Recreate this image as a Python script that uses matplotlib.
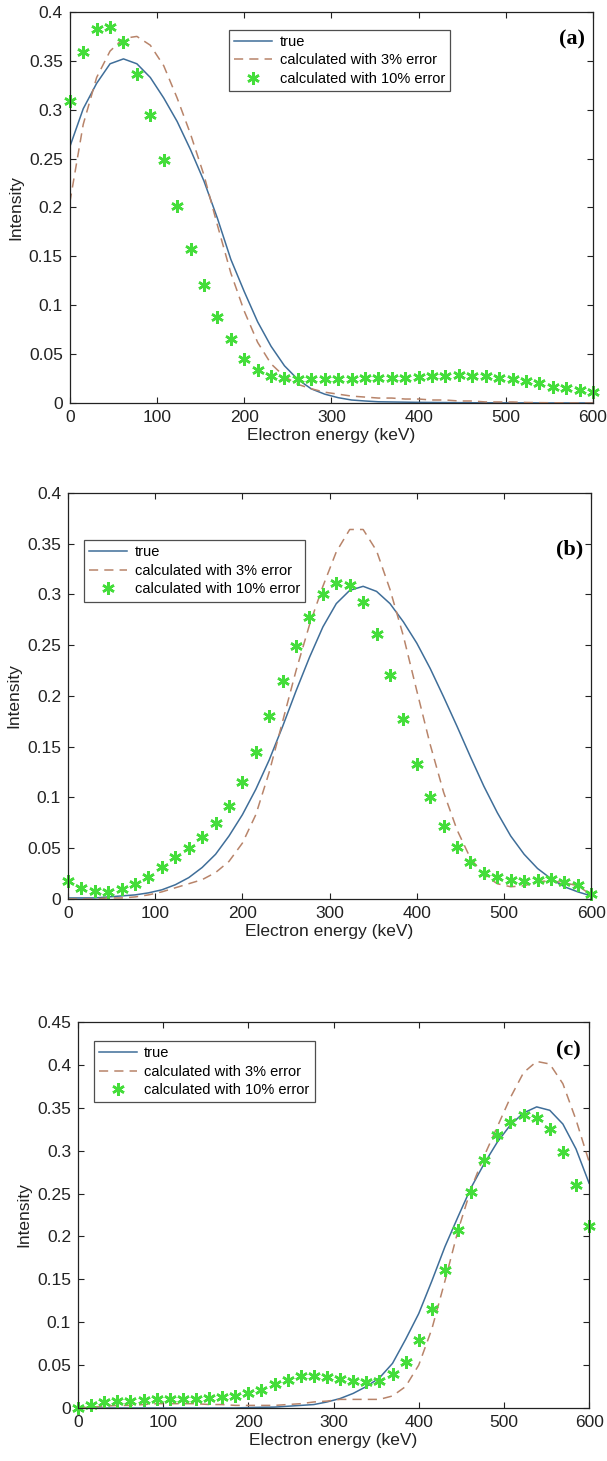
import numpy as np
import matplotlib
matplotlib.use("Agg")
import matplotlib.pyplot as plt

plt.rcParams['font.family'] = ['Liberation Sans', 'DejaVu Sans']

# -----------------------------
# Data
# -----------------------------
energy = np.linspace(0, 600, 40)

true_a = [0.262, 0.301, 0.327, 0.347, 0.352, 0.347, 0.333, 0.312, 0.288, 0.259,
          0.227, 0.189, 0.147, 0.114, 0.083, 0.058, 0.038, 0.024, 0.0144, 0.009,
          0.0054, 0.003, 0.002, 0.0012, 0.001, 0.0008, 0.0006, 0.0005, 0.0004, 0.0003,
          0.0002, 0.0002, 0.0001, 0.0001, 0.0001, 0.0, 0.0, 0.0, 0.0, 0.0]
err3_a = [0.205, 0.285, 0.333, 0.360, 0.373, 0.375, 0.366, 0.345, 0.312, 0.275,
          0.233, 0.182, 0.133, 0.094, 0.062, 0.040, 0.027, 0.019, 0.0145, 0.011,
          0.009, 0.007, 0.006, 0.005, 0.005, 0.004, 0.004, 0.003, 0.003, 0.002,
          0.002, 0.001, 0.001, 0.001, 0.0005, 0.0003, 0.0002, 0.0001, 0.0, 0.0]
err10_a = [0.309, 0.359, 0.383, 0.385, 0.369, 0.337, 0.295, 0.249, 0.202, 0.158,
           0.121, 0.088, 0.065, 0.045, 0.034, 0.028, 0.026, 0.025, 0.024, 0.024,
           0.024, 0.024, 0.026, 0.026, 0.026, 0.026, 0.027, 0.028, 0.028, 0.029,
           0.028, 0.028, 0.026, 0.025, 0.022, 0.020, 0.016, 0.015, 0.013, 0.011]

true_b = [0.001, 0.001, 0.001, 0.002, 0.003, 0.004, 0.006, 0.009, 0.014, 0.021,
          0.031, 0.044, 0.062, 0.083, 0.108, 0.137, 0.170, 0.205, 0.238, 0.268,
          0.291, 0.304, 0.308, 0.303, 0.291, 0.273, 0.252, 0.227, 0.199, 0.170,
          0.140, 0.111, 0.085, 0.062, 0.044, 0.030, 0.020, 0.012, 0.007, 0.003]
err3_b = [0.000, 0.000, 0.000, 0.001, 0.001, 0.002, 0.004, 0.007, 0.011, 0.015,
          0.019, 0.026, 0.037, 0.055, 0.083, 0.125, 0.175, 0.225, 0.270, 0.308,
          0.342, 0.364, 0.364, 0.343, 0.305, 0.259, 0.205, 0.152, 0.105, 0.068,
          0.040, 0.024, 0.015, 0.012, 0.013, 0.017, 0.018, 0.016, 0.013, 0.004]
err10_b = [0.018, 0.011, 0.0075, 0.0065, 0.0098, 0.0146, 0.022, 0.031, 0.041, 0.050,
           0.061, 0.075, 0.092, 0.115, 0.145, 0.180, 0.215, 0.249, 0.278, 0.300,
           0.311, 0.309, 0.293, 0.261, 0.221, 0.177, 0.133, 0.100, 0.072, 0.051,
           0.036, 0.026, 0.022, 0.019, 0.018, 0.019, 0.020, 0.017, 0.014, 0.005]

true_c = [0.0, 0.0, 0.0, 0.0, 0.0, 0.0, 0.0, 0.0, 0.0, 0.0,
          0.0, 0.0, 0.0, 0.0005, 0.0008, 0.001, 0.002, 0.003, 0.004, 0.007,
          0.011, 0.017, 0.025, 0.035, 0.052, 0.080, 0.110, 0.148, 0.188, 0.223,
          0.257, 0.285, 0.310, 0.330, 0.344, 0.351, 0.347, 0.331, 0.302, 0.262]
err3_c = [0.000, 0.001, 0.002, 0.003, 0.003, 0.004, 0.005, 0.005, 0.005, 0.005,
          0.004, 0.004, 0.003, 0.003, 0.003, 0.003, 0.004, 0.005, 0.007, 0.008,
          0.010, 0.010, 0.010, 0.010, 0.014, 0.025, 0.050, 0.092, 0.148, 0.207,
          0.256, 0.294, 0.328, 0.362, 0.391, 0.404, 0.401, 0.378, 0.336, 0.287]
err10_c = [0.0, 0.004, 0.0065, 0.0076, 0.0084, 0.0088, 0.010, 0.010, 0.010, 0.010,
           0.0115, 0.0126, 0.0145, 0.017, 0.021, 0.0275, 0.0325, 0.037, 0.037, 0.036,
           0.034, 0.032, 0.030, 0.031, 0.040, 0.0535, 0.0795, 0.115, 0.161, 0.207,
           0.252, 0.2895, 0.318, 0.333, 0.341, 0.338, 0.325, 0.298, 0.2605, 0.212]

labels = ["true", "calculated with 3% error", "calculated with 10% error"]
xticks = [0, 100, 200, 300, 400, 500, 600]

# -----------------------------
# Layout
# -----------------------------
fig = plt.figure(figsize=(6.07, 14.61), dpi=100)

panels = [
    # rect, data, ylim, yticks, legend anchor, tag, tag pos
    ([0.115, 0.7242, 0.862, 0.2676], (true_a, err3_a, err10_a), 0.4,
     np.arange(0, 0.41, 0.05), (0.305, 0.955), "(a)", (0.985, 0.93)),
    ([0.112, 0.3847, 0.862, 0.2779], (true_b, err3_b, err10_b), 0.4,
     np.arange(0, 0.41, 0.05), (0.031, 0.884), "(b)", (0.985, 0.86)),
    ([0.1285, 0.0363, 0.842, 0.2642], (true_c, err3_c, err10_c), 0.45,
     np.arange(0, 0.46, 0.05), (0.031, 0.951), "(c)", (0.984, 0.927)),
]

# MATLAB-like asterisk marker
asterisk = (6, 2, 0)

for rect, (t, e3, e10), ymax, yt, anchor, tag, tagpos in panels:
    ax = fig.add_axes(rect)
    ax.plot(energy, t, color="#3f6e99", lw=1.1, label=labels[0])
    ax.plot(energy, e3, color="#b8846a", lw=1.1, dashes=(6, 4), label=labels[1])
    ax.plot(energy, e10, ls="none", marker=asterisk, ms=9, color="#44dd3a",
            markeredgewidth=1.8, label=labels[2], clip_on=False)

    ax.set_xlim(0, 600)
    ax.set_ylim(0, ymax)
    ax.set_xticks(xticks)
    ax.set_yticks(yt)
    ax.set_yticklabels(["0"] + ["%g" % v for v in yt[1:]])
    ax.tick_params(direction="in", length=4, width=0.8, top=True, right=True,
                   labelsize=12.5, colors="#222222", pad=5)
    for s in ax.spines.values():
        s.set_linewidth(0.9)
        s.set_color("#222222")

    ax.set_xlabel("Electron energy (keV)", fontsize=12.5, color="#222222", labelpad=2)
    ax.set_ylabel("Intensity", fontsize=12.5, color="#222222", labelpad=4)

    leg = ax.legend(loc="upper left", bbox_to_anchor=anchor, fontsize=10.5,
                    frameon=True, fancybox=False, edgecolor="#222222",
                    handlelength=2.6, handletextpad=0.5, labelspacing=0.32,
                    borderpad=0.35, borderaxespad=0)
    leg.get_frame().set_linewidth(0.9)

    ax.text(tagpos[0], tagpos[1], tag, transform=ax.transAxes, ha="right", va="center",
            fontsize=16, fontweight="bold", family="Liberation Serif")

fig.savefig("out.png", dpi=100)
